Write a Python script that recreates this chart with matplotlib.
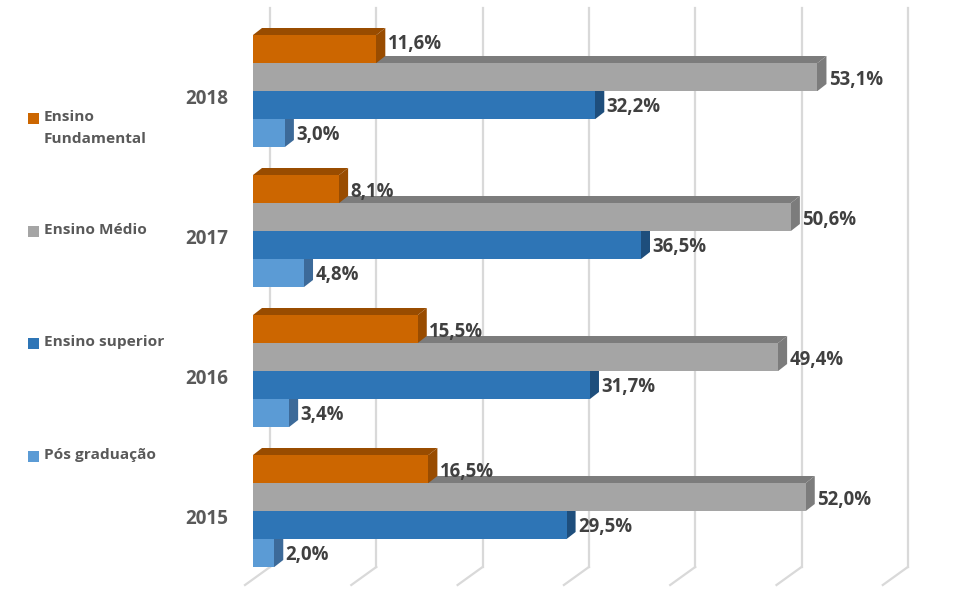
import matplotlib
matplotlib.use('Agg')
import matplotlib.pyplot as plt
from matplotlib.patches import Polygon, Rectangle

years = ['2015', '2016', '2017', '2018']
fundamental = [16.5, 15.5, 8.1, 11.6]
medio = [52.0, 49.4, 50.6, 53.1]
superior = [29.5, 31.7, 36.5, 32.2]
pos_grad = [2.0, 3.4, 4.8, 3.0]
grid_values = [0, 10, 20, 30, 40, 50, 60]

# pixels of the picture -> data units
px_per_pct = 10.63
px_per_year = 140.0
zero_px = 253.0
y2015_px = 511.0
bar_h = 28 / px_per_year
dx = 9 / px_per_pct
dy = 7 / px_per_year

plt.rcParams['font.family'] = ['Open Sans', 'DejaVu Sans']

fig = plt.figure(figsize=(9.67, 6), dpi=100)
ax = fig.add_axes([0, 0, 1, 1])
ax.set_xlim(-zero_px / px_per_pct, (967 - zero_px) / px_per_pct)
ax.set_ylim((y2015_px - 600) / px_per_year, y2015_px / px_per_year)
ax.axis('off')

# back wall grid and the floor lines
back_x = 17 / px_per_pct
grid_bottom = (y2015_px - 567) / px_per_year
grid_top = (y2015_px - 8) / px_per_year
for v in grid_values:
    ax.plot([v + back_x, v + back_x], [grid_top, grid_bottom], color='#D9D9D9', lw=1.6, zorder=1)
    ax.plot([v + back_x, v + back_x - 25 / px_per_pct],
            [grid_bottom, grid_bottom - 18 / px_per_year], color='#D9D9D9', lw=1.6, zorder=1)


def bars_3d(values, slot, front, side, top, z):
    for i, v in enumerate(values):
        y0 = i + (slot - 2) * bar_h
        y1 = y0 + bar_h
        # faces start a bit under the front so no light seam shows
        under = 1 / px_per_pct
        ax.add_patch(Polygon([(0, y1), (dx, y1 + dy), (v + dx, y1 + dy), (v, y1)],
                             color=top, lw=0, zorder=z))
        ax.add_patch(Polygon([(v - under, y0), (v, y0), (v + dx, y0 + dy), (v + dx, y1 + dy),
                              (v, y1), (v - under, y1)],
                             color=side, lw=0, zorder=z))
        ax.barh(y0, v, height=bar_h, align='edge', color=front, zorder=z + 0.5)


bars_3d(pos_grad, 0, '#5B9BD5', '#3C6A99', '#3C6A99', 2)
bars_3d(superior, 1, '#2E75B6', '#1E4E7C', '#1E4E7C', 3)
bars_3d(medio, 2, '#A5A5A5', '#7C7C7C', '#7C7C7C', 4)
bars_3d(fundamental, 3, '#CC6600', '#994C00', '#994C00', 5)


def value_labels(values, slot, shift):
    for i, v in enumerate(values):
        s = ('%.1f%%' % v).replace('.', ',')
        y = i + (slot - 1.5) * bar_h - shift[i] / px_per_year
        ax.text(v + 11.5 / px_per_pct, y, s, fontsize=13.4, fontweight='bold',
                color='#404040', va='center', ha='left', zorder=10)


value_labels(pos_grad, 0, [2, 2, 2, 2])
value_labels(superior, 1, [2, 2, 2, 2])
value_labels(medio, 2, [3, 3, 3, 3])
value_labels(fundamental, 3, [3, 3, 3, -5])

for i, y in enumerate(years):
    ax.text(-25 / px_per_pct, i - 8 / px_per_year, y, fontsize=13.6, fontweight='bold',
            color='#595959', ha='right', va='center')

# legend
legend_names = ['Ensino\nFundamental', 'Ensino Médio', 'Ensino superior', 'Pós graduação']
legend_colors = ['#CC6600', '#A5A5A5', '#2E75B6', '#5B9BD5']
legend_y = [118, 231, 343, 456]
W, H = 967.0, 600.0
for name, c, py in zip(legend_names, legend_colors, legend_y):
    fig.add_artist(Rectangle((28 / W, 1 - (py + 6) / H), 11 / W, 11 / H, color=c, lw=0,
                             transform=fig.transFigure))
    fig.text(44 / W, 1 - (py - 8) / H, name, fontsize=11.1, fontweight='bold', color='#595959',
             ha='left', va='top', linespacing=1.75)

fig.savefig('out.png', dpi=100, facecolor='white')
